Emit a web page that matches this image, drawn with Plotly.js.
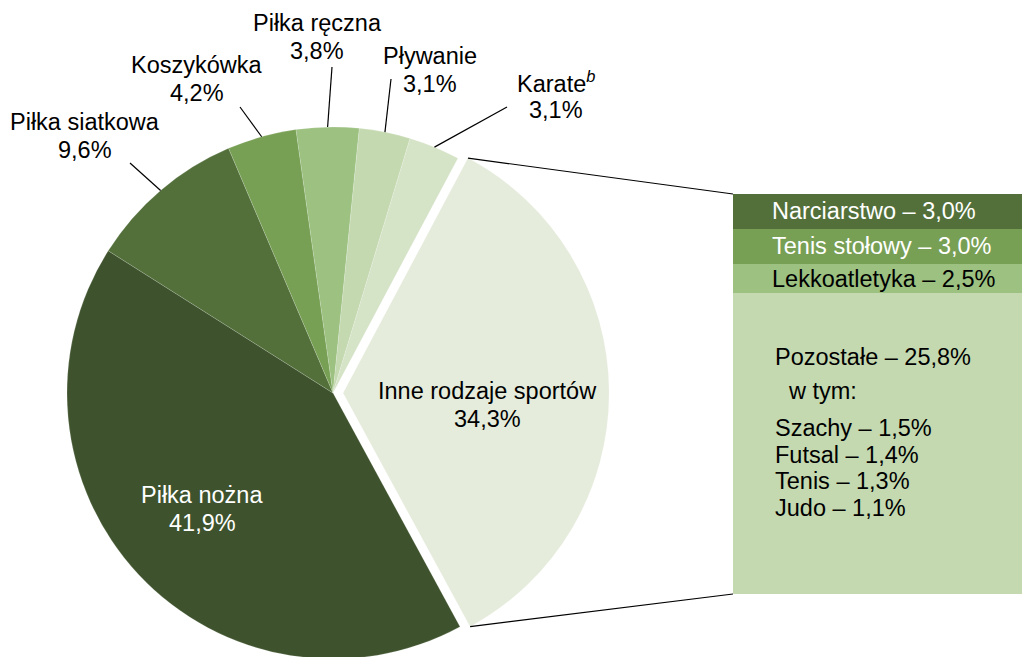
<!DOCTYPE html>
<html>
<head>
<meta charset="utf-8">
<script src="https://cdn.plot.ly/plotly-3.0.1.min.js"></script>
<style>
html,body{margin:0;padding:0;overflow:hidden;background:#fff;}
#chart{width:1022px;height:680px;}
</style>
</head>
<body>
<div id="chart"></div>
<script>
// ---- data ----
const pieLabels = ['Inne rodzaje sportów','Piłka nożna','Piłka siatkowa','Koszykówka','Piłka ręczna','Pływanie','Karate'];
const pieValues = [34.3, 41.9, 9.6, 4.2, 3.8, 3.1, 3.1];
const pieColors = ['#e5ecdc','#3e532d','#53703b','#78a055','#9cc181','#c4d9b0','#d5e3c7'];

const barLabels = ['Narciarstwo','Tenis stołowy','Lekkoatletyka','Pozostałe'];
const barValues = [3.0, 3.0, 2.5, 25.8];
const barColors = ['#53703b','#78a055','#9cc181','#c4d9b0'];
const barTextColors = ['#ffffff','#ffffff','#000000','#000000'];

const subLabels = ['Szachy','Futsal','Tenis','Judo'];
const subValues = [1.5, 1.4, 1.3, 1.1];

// ---- layout geometry ----
const W = 1022, H = 680;
const cx = 333, cy = 393, R = 266, pull = 0.038, rotation = 28;
const FONT = 'Liberation Sans, Arial, sans-serif';
const FS = 23.5;
const LH = 28;
const fmt = v => v.toFixed(1).replace('.', ',') + '%';
const X = p => p / W, Y = p => 1 - p / H;

const half = R * (1 + pull);
const total = pieValues.reduce((a, b) => a + b, 0);

const traces = [];
traces.push({
  type: 'pie', labels: pieLabels, values: pieValues, sort: false,
  direction: 'clockwise', rotation: rotation,
  pull: pieValues.map((v, i) => i === 0 ? pull : 0),
  marker: {colors: pieColors, line: {color: 'rgba(255,255,255,0.25)', width: 0.6}},
  textinfo: 'none', hoverinfo: 'none',
  domain: {x: [X(cx - half), X(cx + half)], y: [Y(cy + half), Y(cy - half)]}
});

const barTop = 194, barBottom = 594, barLeft = 733;
for (let i = barLabels.length - 1; i >= 0; i--) {
  traces.push({
    type: 'bar', x: [0], y: [barValues[i]], width: [1],
    marker: {color: barColors[i], line: {width: 0}},
    hoverinfo: 'none', xaxis: 'x', yaxis: 'y', showlegend: false
  });
}
const barTotal = barValues.reduce((a, b) => a + b, 0);

// slice angles
const angles = [];
let acc = rotation;
pieValues.forEach(v => { const a0 = acc; acc += 360 * v / total; angles.push([a0, acc]); });
const rad = d => d * Math.PI / 180;
function edgePt(deg, off) {
  return [cx + R * Math.sin(rad(deg)) + off[0], cy - R * Math.cos(rad(deg)) + off[1]];
}
const inneMid = (angles[0][0] + angles[0][1]) / 2;
const inneOff = [pull * R * Math.sin(rad(inneMid)), -pull * R * Math.cos(rad(inneMid))];

const shapes = [];
const annotations = [];
const black = '#000000';

function label(text, x, y, color, anchor) {
  annotations.push({xref: 'paper', yref: 'paper', x: X(x), y: Y(y), xanchor: anchor || 'center', yanchor: 'middle',
    text: text, showarrow: false, font: {family: FONT, size: FS, color: color}});
}
function twoLine(l1, l2, x, y1, color) {
  label(l1, x, y1, color);
  label(l2, x, y1 + LH, color);
}

// connector lines from exploded slice to the bar
const pTop = edgePt(angles[0][0], inneOff);
const pBot = edgePt(angles[0][1], inneOff);
shapes.push({type: 'line', xref: 'paper', yref: 'paper', x0: X(pTop[0]), y0: Y(pTop[1]), x1: X(barLeft), y1: Y(barTop), line: {color: black, width: 1.2}});
shapes.push({type: 'line', xref: 'paper', yref: 'paper', x0: X(pBot[0]), y0: Y(pBot[1]), x1: X(barLeft), y1: Y(barBottom), line: {color: black, width: 1.2}});

// outside labels (index, text center x, line1 y, leader outer point)
const outside = [
  {i: 2, tx: 85,  ty: 122, lx: 130, ly: 163},
  {i: 3, tx: 197, ty: 65,  lx: 240, ly: 107},
  {i: 4, tx: 317, ty: 23,  lx: 332, ly: 67},
  {i: 5, tx: 430, ty: 56,  lx: 391, ly: 79},
  {i: 6, tx: 556, ty: 82,  lx: 507, ly: 107}
];
outside.forEach(o => {
  const mid = (angles[o.i][0] + angles[o.i][1]) / 2;
  const e = edgePt(mid, [0, 0]);
  shapes.push({type: 'line', xref: 'paper', yref: 'paper', x0: X(o.lx), y0: Y(o.ly), x1: X(e[0]), y1: Y(e[1]), line: {color: black, width: 1.2}});
  let name = pieLabels[o.i];
  if (name === 'Karate') name = 'Karate<sup><i>b</i></sup>';
  twoLine(name, fmt(pieValues[o.i]), o.tx, o.ty, black);
});

// inside labels
twoLine(pieLabels[1], fmt(pieValues[1]), 202, 495, '#ffffff');
twoLine(pieLabels[0], fmt(pieValues[0]), 487, 391, black);

// bar segment labels
let cum = barTotal;
for (let i = 0; i < 3; i++) {
  const mid = cum - barValues[i] / 2;
  cum -= barValues[i];
  annotations.push({xref: 'paper', yref: 'y', x: X(770), y: mid, xanchor: 'left', yanchor: 'middle',
    text: barLabels[i] + ' – ' + fmt(barValues[i]), showarrow: false,
    font: {family: FONT, size: FS, color: barTextColors[i]}});
}
label(barLabels[3] + ' – ' + fmt(barValues[3]), 773, 357, black, 'left');
label('w tym:', 786, 391, black, 'left');
subLabels.forEach((s, k) => {
  label(s + ' – ' + fmt(subValues[k]), 773, 428 + k * 26.7, black, 'left');
});

const layout = {
  width: W, height: H,
  margin: {l: 0, r: 0, t: 0, b: 0, pad: 0},
  paper_bgcolor: '#ffffff', plot_bgcolor: 'rgba(0,0,0,0)',
  showlegend: false, barmode: 'stack', bargap: 0,
  font: {family: FONT, size: FS, color: black},
  xaxis: {domain: [X(barLeft), 1], range: [-0.5, 0.5], visible: false, fixedrange: true},
  yaxis: {domain: [Y(barBottom), Y(barTop)], range: [0, barTotal], visible: false, fixedrange: true},
  shapes: shapes, annotations: annotations
};

Plotly.newPlot('chart', traces, layout, {displayModeBar: false, staticPlot: true});
</script>
</body>
</html>
